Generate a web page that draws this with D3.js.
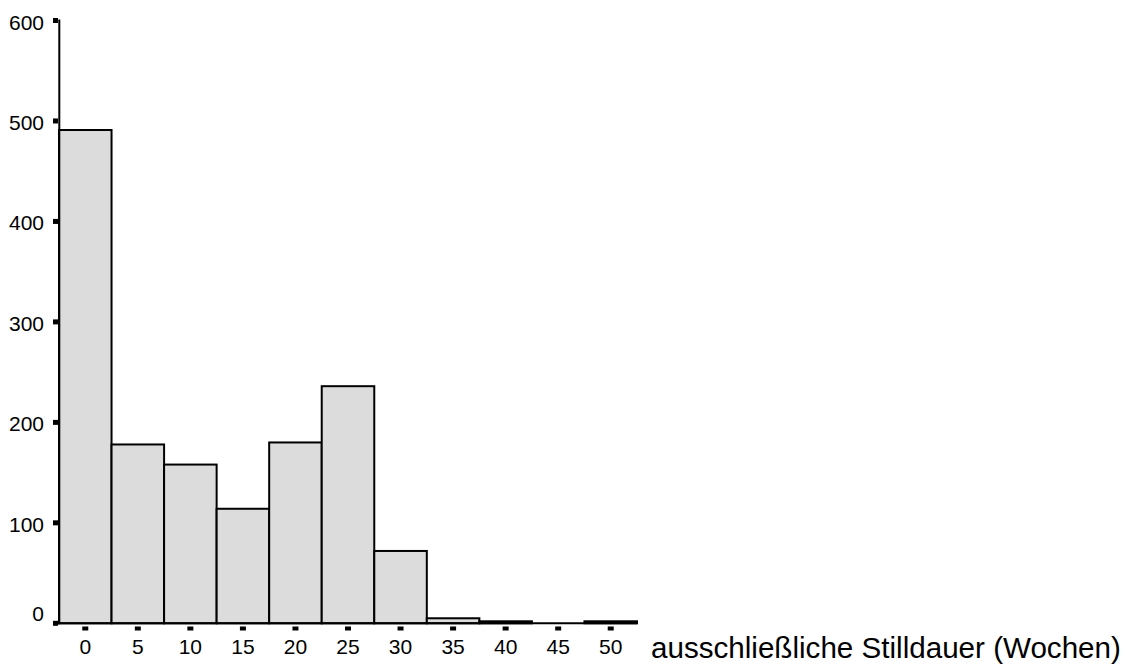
<!DOCTYPE html>
<html>
<head>
<meta charset="utf-8">
<script src="https://cdn.jsdelivr.net/npm/d3@7"></script>
<style>
  html, body { margin: 0; padding: 0; background: #fff; }
  svg { display: block; font-family: "Liberation Sans", Arial, Helvetica, sans-serif; }
</style>
</head>
<body>
<svg id="chart" width="1131" height="664"></svg>
<script>
// Data: histogram of exclusive breastfeeding duration (weeks), bin centers and counts
const binCenters = [0, 5, 10, 15, 20, 25, 30, 35, 40, 45, 50];
const counts = [491, 178, 158, 114, 180, 236, 72, 5, 2, 0, 2];
const binWidth = 5;
const yTicks = [0, 100, 200, 300, 400, 500, 600];
const xTicks = [0, 5, 10, 15, 20, 25, 30, 35, 40, 45, 50];
const xTitle = "ausschließliche Stilldauer (Wochen)";

const svg = d3.select("#chart");
const x = d3.scaleLinear().domain([-2.5, 52.5]).range([59, 637]);
const y = d3.scaleLinear().domain([0, 600]).range([623.3, 20.5]);

// Bars
svg.append("g").selectAll("rect")
  .data(binCenters.map((c, i) => ({ c, v: counts[i] })))
  .join("rect")
  .attr("x", d => x(d.c - binWidth / 2))
  .attr("width", d => x(d.c + binWidth / 2) - x(d.c - binWidth / 2))
  .attr("y", d => y(d.v))
  .attr("height", d => y(0) - y(d.v))
  .attr("fill", "#dcdcdc")
  .attr("stroke", "#000")
  .attr("stroke-width", 2);

// Y axis line
svg.append("line")
  .attr("x1", 59.3).attr("x2", 59.3)
  .attr("y1", y(600) - 1).attr("y2", y(0) + 1)
  .attr("stroke", "#000").attr("stroke-width", 2);

// X axis line
svg.append("line")
  .attr("x1", 58).attr("x2", 637)
  .attr("y1", y(0)).attr("y2", y(0))
  .attr("stroke", "#000").attr("stroke-width", 2);

// Y ticks (small squares) and labels
const yg = svg.append("g");
yg.selectAll("rect").data(yTicks).join("rect")
  .attr("x", 53).attr("y", d => y(d) - 2.5)
  .attr("width", 5).attr("height", 5)
  .attr("fill", "#000");
yg.selectAll("text").data(yTicks).join("text")
  .attr("x", 44)
  .attr("y", d => y(d) + (d === 0 ? -10 : 1.5))
  .attr("text-anchor", "end")
  .attr("dominant-baseline", "central")
  .attr("font-size", 21)
  .attr("fill", "#000")
  .text(d => d);

// X ticks (small squares below axis) and labels
const xg = svg.append("g");
xg.selectAll("rect").data(xTicks).join("rect")
  .attr("x", d => x(d) - 3).attr("y", 626.5)
  .attr("width", 6).attr("height", 4)
  .attr("fill", "#000");
xg.selectAll("text").data(xTicks).join("text")
  .attr("x", d => x(d))
  .attr("y", 654)
  .attr("text-anchor", "middle")
  .attr("font-size", 21)
  .attr("fill", "#000")
  .text(d => d);

// X axis title
svg.append("text")
  .attr("x", 651)
  .attr("y", 658)
  .attr("font-size", 29.6)
  .attr("fill", "#000")
  .text(xTitle);
</script>
</body>
</html>
